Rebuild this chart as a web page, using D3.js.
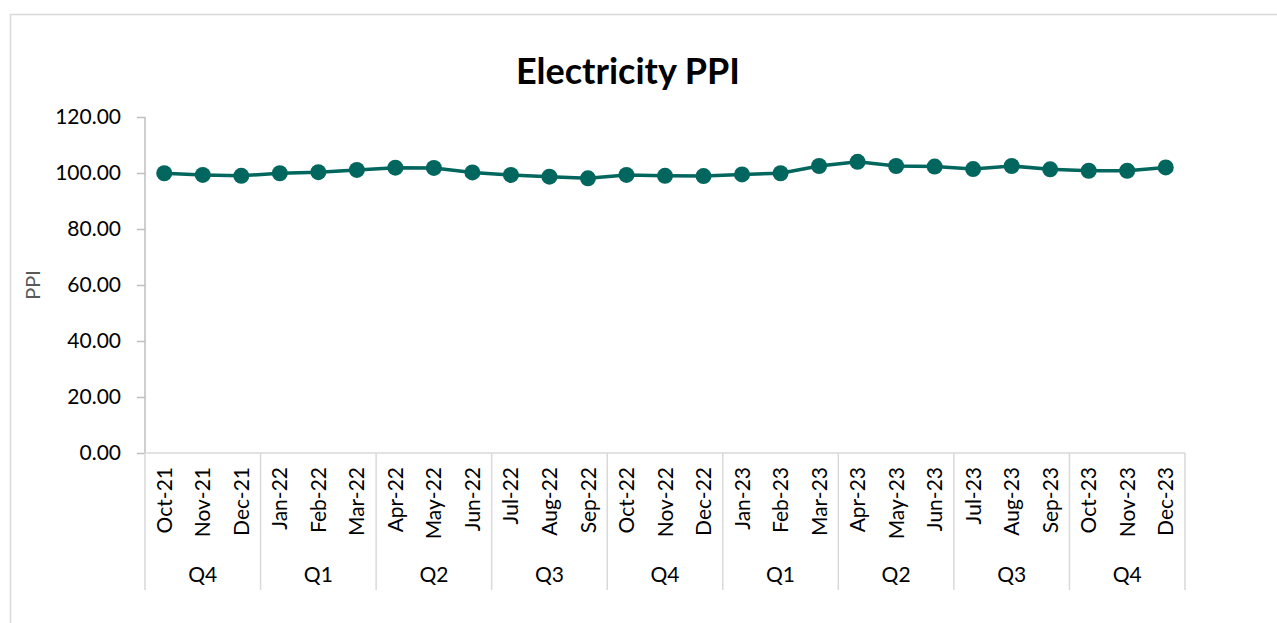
<!DOCTYPE html>
<html>
<head>
  <script src="https://cdn.jsdelivr.net/npm/d3@7"></script>
  <title>Electricity PPI</title>
  <style>
    body { margin: 0; background: #fff; }
    text { font-family: Lato, "Open Sans", sans-serif; fill: #000; }
  </style>
</head>
<body>
<svg id="chart" width="1277" height="623"></svg>
<script>
  // monthly PPI values, Oct-21 .. Dec-23
  var months = ["Oct-21","Nov-21","Dec-21","Jan-22","Feb-22","Mar-22","Apr-22","May-22","Jun-22",
                "Jul-22","Aug-22","Sep-22","Oct-22","Nov-22","Dec-22","Jan-23","Feb-23","Mar-23",
                "Apr-23","May-23","Jun-23","Jul-23","Aug-23","Sep-23","Oct-23","Nov-23","Dec-23"];
  var ppi = [99.9, 99.3, 99.0, 99.9, 100.3, 101.1, 101.9, 101.8, 100.2,
             99.3, 98.7, 98.1, 99.3, 99.0, 98.9, 99.5, 99.9, 102.5,
             104.0, 102.5, 102.3, 101.4, 102.5, 101.3, 100.8, 100.8, 102.0];
  var quarters = ["Q4","Q1","Q2","Q3","Q4","Q1","Q2","Q3","Q4"];
  var yTicks = [0, 20, 40, 60, 80, 100, 120];

  var svg = d3.select("#chart");
  var plotL = 145, plotR = 1185, plotT = 117, plotB = 453;

  // outer chart border
  svg.append("rect").attr("x", 10.5).attr("y", 14.5).attr("width", 1300).attr("height", 700)
    .attr("fill", "none").attr("stroke", "#d9d9d9").attr("stroke-width", 1.5);

  svg.append("text").attr("x", 628).attr("y", 84).attr("text-anchor", "middle")
    .style("font-size", "36px").style("font-weight", "bold").text("Electricity PPI");

  var x = d3.scaleBand().domain(months).range([plotL, plotR]);
  var y = d3.scaleLinear().domain([0, 120]).range([plotB, plotT]);

  // y axis
  var yAxis = svg.append("g").attr("transform", "translate(" + plotL + ",0)")
    .call(d3.axisLeft(y).tickValues(yTicks).tickSize(8).tickPadding(16).tickFormat(d3.format(".2f")));
  yAxis.selectAll("path, line").attr("stroke", "#bfbfbf").attr("stroke-width", 1.5);
  yAxis.select(".domain").attr("d", "M0," + plotT + "V" + plotB);
  yAxis.selectAll("text").style("font-family", "Lato, sans-serif").style("font-size", "21px").attr("fill", "#000");

  svg.append("text").attr("transform", "translate(40,285) rotate(-90)").attr("text-anchor", "middle")
    .style("font-size", "20px").style("fill", "#595959").text("PPI");

  // x axis baseline
  svg.append("line").attr("x1", plotL).attr("x2", plotR).attr("y1", plotB).attr("y2", plotB)
    .attr("stroke", "#d9d9d9").attr("stroke-width", 1.5);

  // month labels
  svg.selectAll(".month").data(months).enter().append("text")
    .attr("class", "month")
    .attr("transform", function(d) { return "translate(" + (x(d) + x.bandwidth() / 2) + "," + 467 + ") rotate(-90)"; })
    .attr("text-anchor", "end").attr("dy", "0.36em")
    .style("font-size", "21px").text(function(d) { return d; });

  // quarter groups
  var qw = x.bandwidth() * 3;
  svg.selectAll(".qsep").data(d3.range(quarters.length + 1)).enter().append("line")
    .attr("x1", function(i) { return plotL + i * qw; }).attr("x2", function(i) { return plotL + i * qw; })
    .attr("y1", plotB).attr("y2", 590).attr("stroke", "#d9d9d9").attr("stroke-width", 1.5);
  svg.selectAll(".quarter").data(quarters).enter().append("text")
    .attr("x", function(d, i) { return plotL + i * qw + qw / 2; }).attr("y", 582)
    .attr("text-anchor", "middle").style("font-size", "21px").text(function(d) { return d; });

  // line + markers
  var line = d3.line().x(function(d, i) { return x(months[i]) + x.bandwidth() / 2; }).y(function(d) { return y(d); });
  svg.append("path").datum(ppi).attr("d", line).attr("fill", "none")
    .attr("stroke", "#00665e").attr("stroke-width", 3.5);
  svg.selectAll(".dot").data(ppi).enter().append("circle")
    .attr("cx", function(d, i) { return x(months[i]) + x.bandwidth() / 2; })
    .attr("cy", function(d) { return y(d); }).attr("r", 8).attr("fill", "#00665e");
</script>
</body>
</html>
